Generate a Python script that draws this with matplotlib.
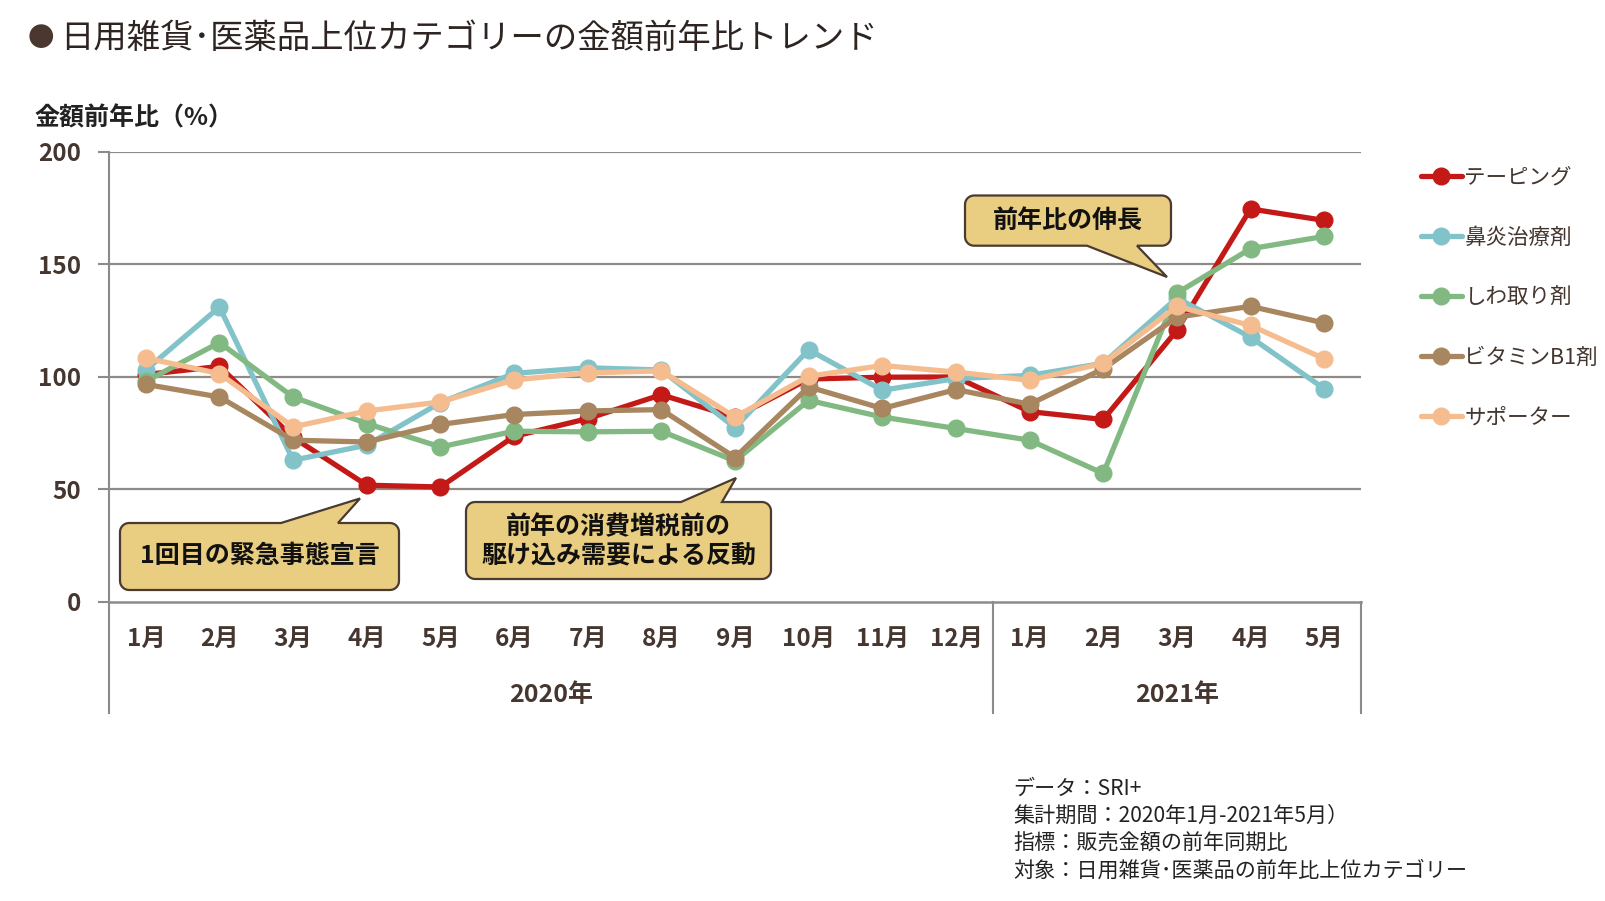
import numpy as np
import matplotlib
matplotlib.use('Agg')
import matplotlib.pyplot as plt
from matplotlib.patches import Polygon
from matplotlib.lines import Line2D

plt.rcParams['font.family'] = ['Noto Sans CJK JP', 'DejaVu Sans']

months = ['1月','2月','3月','4月','5月','6月','7月','8月','9月','10月','11月','12月',
          '1月','2月','3月','4月','5月']
years = ['2020年', '2021年']
year_spans = [12, 5]

series_names = ['テーピング', '鼻炎治療剤', 'しわ取り剤', 'ビタミンB1剤', 'サポーター']
taping   = [101, 104.6, 73, 51.8, 51, 73.5, 81.4, 92, 82, 99, 99.8, 99.9, 84.5, 81, 120.6, 174.6, 169.5]
rhinitis = [103, 131, 62.9, 69.6, 88.5, 101.5, 104, 103, 77.4, 112, 94, 99.2, 100.6, 106, 135, 117.6, 94.7]
wrinkle  = [98, 115.2, 91, 79.2, 68.8, 75.8, 75.5, 75.8, 62.6, 89.5, 82.1, 77, 71.8, 57, 137.2, 156.9, 162.4]
vitb1    = [96.6, 91, 71.8, 71, 78.8, 83.2, 84.8, 85.4, 64.1, 95.5, 85.9, 94.3, 87.8, 103.5, 126.5, 131.3, 123.9]
supporter= [108.3, 101.4, 77.7, 84.8, 88.8, 98.6, 101.7, 102.6, 82.1, 100.2, 105, 102.1, 98.4, 106, 131.3, 122.8, 108]
series = [taping, rhinitis, wrinkle, vitb1, supporter]
colors = ['#C31A17', '#82C3C9', '#82B982', '#A8865F', '#F5BD8F']

yticks = [0, 50, 100, 150, 200]

W, H = 1605, 901
txt = '#45362F'
grid_c = '#8E8A88'

fig = plt.figure(figsize=(W/100, H/100), dpi=100)
ax = fig.add_axes([109/W, 1-601.7/H, (1361-109)/W, (601.7-151.8)/H])

x = np.arange(len(months))
for vals, c, name in zip(series, colors, series_names):
    ax.plot(x, vals, color=c, lw=3.8, marker='o', ms=12, label=name, solid_capstyle='round')

ax.set_xlim(-0.5, len(months)-0.5)
ax.set_ylim(0, 200)
ax.set_yticks(yticks)
ax.set_yticklabels([str(t) for t in yticks], fontsize=17.5, fontweight='bold', color=txt)
ax.tick_params(axis='y', length=8, width=1.5, color=grid_c, pad=12)
ax.set_xticks([])
for t in yticks[1:]:
    ax.axhline(t, color=grid_c, lw=1.6, zorder=0)
for s in ['top', 'right']:
    ax.spines[s].set_visible(False)
ax.spines['left'].set_color(grid_c)
ax.spines['left'].set_linewidth(1.5)
ax.spines['bottom'].set_color(grid_c)
ax.spines['bottom'].set_linewidth(1.8)
ax.spines['left'].set_bounds(0, 200)

# category table below the axis
xt = ax.get_xaxis_transform()
for i, m in enumerate(months):
    ax.text(i, -0.083, m, transform=xt, ha='center', va='center', fontsize=17.5,
            fontweight='bold', color=txt)
start = 0
for yr, span in zip(years, year_spans):
    ax.text(start + (span-1)/2, -0.207, yr, transform=xt, ha='center', va='center',
            fontsize=18, fontweight='bold', color=txt)
    start += span
for xb in [-0.5, year_spans[0]-0.5, len(months)-0.5]:
    ax.add_line(Line2D([xb, xb], [0, -0.247], transform=xt, color=grid_c, lw=1.5, clip_on=False))

# title and labels
fig.text(28/W, 1-39/H, '●', fontsize=19, color='#4A3830', va='center', ha='left')
fig.text(60/W, 1-38/H, '日用雑貨･医薬品上位カテゴリーの金額前年比トレンド', fontsize=24,
         color='#2E2421', va='center', ha='left')
fig.text(34/W, 1-118/H, '金額前年比（%）', fontsize=18, fontweight='bold', color='#222222',
         va='center', ha='left')

# legend
leg = ax.legend(loc='upper left', bbox_to_anchor=(1421/W, 1-166.5/H), bbox_transform=fig.transFigure,
                frameon=False, fontsize=15.5, handlelength=1.9, handletextpad=0.12,
                labelspacing=1.77, borderpad=0, borderaxespad=0)
for t in leg.get_texts():
    t.set_color(txt)


# callouts (pixel coords, y down)
def callout(x0, y0, x1, y1, a, b, tip, side, r=9):
    def arc(cx, cy, t0, t1):
        ts = np.radians(np.linspace(t0, t1, 8))
        return [(cx + r*np.cos(t), cy + r*np.sin(t)) for t in ts]
    pts = []
    pts += arc(x0+r, y0+r, 180, 270)
    if side == 'top':
        pts += [(a, y0), tip, (b, y0)]
    pts += arc(x1-r, y0+r, 270, 360)
    pts += arc(x1-r, y1-r, 0, 90)
    if side == 'bottom':
        pts += [(b, y1), tip, (a, y1)]
    pts += arc(x0+r, y1-r, 90, 180)
    pts = [(px/W, 1-py/H) for px, py in pts]
    fig.patches.append(Polygon(pts, closed=True, transform=fig.transFigure, facecolor='#E9CD80',
                               edgecolor='#4A3A30', lw=1.6, zorder=5))

callout(120, 523, 399, 590, 281, 338, (360, 498.5), 'top')
fig.text((120+399)/2/W, 1-556/H, '1回目の緊急事態宣言', fontsize=18, fontweight='bold',
         ha='center', va='center', color='#111111', zorder=6)
callout(466, 502, 771, 579, 681, 722, (736, 478), 'top')
fig.text((466+771)/2/W, 1-541/H, '前年の消費増税前の\n駆け込み需要による反動', fontsize=18,
         fontweight='bold', ha='center', va='center', color='#111111', zorder=6, linespacing=1.2)
callout(965, 195.5, 1171, 245.7, 1087, 1137, (1167, 277), 'bottom')
fig.text((965+1171)/2/W, 1-221/H, '前年比の伸長', fontsize=18, fontweight='bold',
         ha='center', va='center', color='#111111', zorder=6)

notes = ['データ：SRI+', '集計期間：2020年1月-2021年5月）', '指標：販売金額の前年同期比',
         '対象：日用雑貨･医薬品の前年比上位カテゴリー']
for i, n in enumerate(notes):
    fig.text(1013/W, 1-(789+27.3*i)/H, n, fontsize=15.2, color='#222222', va='center', ha='left')

fig.savefig('out.png', dpi=100)
